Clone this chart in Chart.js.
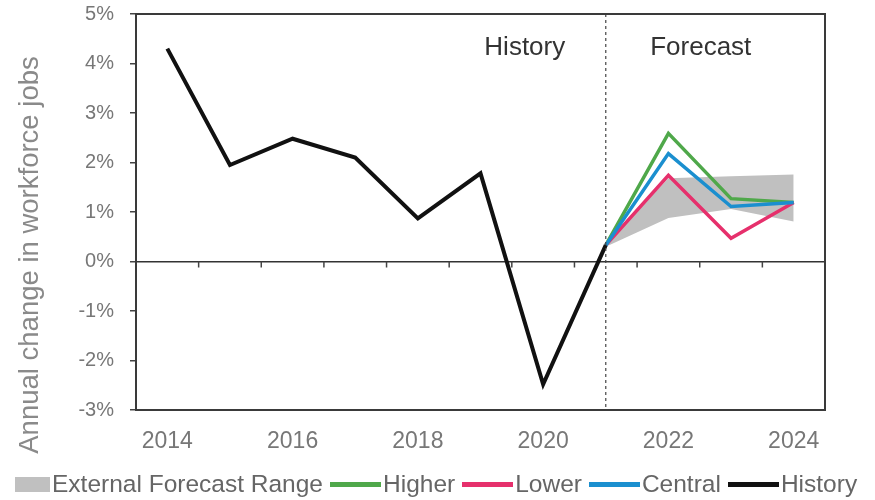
<!DOCTYPE html>
<html>
<head>
<meta charset="utf-8">
<script src="https://cdn.jsdelivr.net/npm/chart.js@4.4.1/dist/chart.umd.min.js"></script>
<style>
  html, body { margin: 0; padding: 0; background: #fff; }
  #wrap { position: relative; width: 875px; height: 500px; }
  #legend {
    position: absolute; left: 15px; top: 470px;
    font: 24.5px "Liberation Sans", Arial, sans-serif; color: #666;
    display: flex; align-items: center; white-space: nowrap;
  }
  .sw { display: inline-block; margin-right: 2px; }
  .lbl { margin-right: 7px; }
</style>
</head>
<body>
<div id="wrap">
  <canvas id="chart"></canvas>
  <div id="legend"></div>
</div>
<script>
// Data
const years = ["2014", "2015", "2016", "2017", "2018", "2019", "2020", "2021", "2022", "2023", "2024"];
const history = [4.3, 1.95, 2.48, 2.1, 0.87, 1.78, -2.48, 0.33, null, null, null];
const higher = [null, null, null, null, null, null, null, 0.33, 2.59, 1.27, 1.19];
const central = [null, null, null, null, null, null, null, 0.33, 2.18, 1.11, 1.19];
const lower = [null, null, null, null, null, null, null, 0.33, 1.74, 0.47, 1.19];
const rangeUpper = [null, null, null, null, null, null, null, 0.36, 1.68, 1.72, 1.76];
const rangeLower = [null, null, null, null, null, null, null, 0.3, 0.88, 1.06, 0.81];
const yTicks = [-3, -2, -1, 0, 1, 2, 3, 4, 5];
const forecastStart = 7; // index of 2021

const FONT = "'Liberation Sans', Arial, sans-serif";
const colors = {
  range: "#c0c0c0",
  higher: "#4fa84a",
  lower: "#e6306c",
  central: "#1b8fcf",
  history: "#111111",
};

// frame, zero-line ticks, dashed divider, axis title and History/Forecast labels
Chart.register({
  id: "decor",
  afterDatasetsDraw: (chart) => {
    const ctx = chart.ctx;
    const a = chart.chartArea;
    const x = chart.scales.x;
    const y = chart.scales.y;
    ctx.save();
    // ticks below the zero line at category boundaries
    const y0 = y.getPixelForValue(0);
    const half = (x.getPixelForValue(1) - x.getPixelForValue(0)) / 2;
    ctx.strokeStyle = "#444";
    ctx.lineWidth = 1.5;
    for (let i = 0; i <= years.length; i++) {
      const px = x.getPixelForValue(i) - half;
      ctx.beginPath();
      ctx.moveTo(px, y0);
      ctx.lineTo(px, y0 + 6);
      ctx.stroke();
    }
    // dashed divider
    const xd = x.getPixelForValue(forecastStart);
    ctx.setLineDash([3, 3]);
    ctx.lineWidth = 1.2;
    ctx.beginPath();
    ctx.moveTo(xd, a.top);
    ctx.lineTo(xd, a.bottom);
    ctx.stroke();
    ctx.setLineDash([]);
    // frame
    ctx.lineWidth = 2;
    ctx.strokeStyle = "#3a3a3a";
    ctx.strokeRect(a.left, a.top, a.right - a.left, a.bottom - a.top);
    // labels
    ctx.fillStyle = "#333";
    ctx.font = "26px " + FONT;
    ctx.textAlign = "center";
    ctx.textBaseline = "middle";
    ctx.fillText("History", xd - 81, y.getPixelForValue(4.32));
    ctx.fillText("Forecast", xd + 95, y.getPixelForValue(4.32));
    // y axis title
    ctx.translate(30, (a.top + a.bottom) / 2 + 43);
    ctx.rotate(-Math.PI / 2);
    ctx.fillStyle = "#8a8a8a";
    ctx.font = "27.5px " + FONT;
    ctx.fillText("Annual change in workforce jobs", 0, 0);
    ctx.restore();
  },
});

const ctx = document.getElementById("chart").getContext("2d");
const lineDefaults = { pointRadius: 0, tension: 0, fill: false, borderJoinStyle: "miter" };

new Chart(ctx, {
  type: "line",
  data: {
    labels: years,
    datasets: [
      { ...lineDefaults, label: "History", data: history, borderColor: colors.history, borderWidth: 4, order: 1 },
      { ...lineDefaults, label: "Central", data: central, borderColor: colors.central, borderWidth: 3.5, order: 2 },
      { ...lineDefaults, label: "Lower", data: lower, borderColor: colors.lower, borderWidth: 3.5, order: 3 },
      { ...lineDefaults, label: "Higher", data: higher, borderColor: colors.higher, borderWidth: 3.5, order: 4 },
      { ...lineDefaults, label: "External Forecast Range", data: rangeUpper, borderWidth: 0, borderColor: "rgba(0,0,0,0)", backgroundColor: colors.range, fill: "+1", order: 10 },
      { ...lineDefaults, label: "rangeLower", data: rangeLower, borderWidth: 0, borderColor: "rgba(0,0,0,0)", order: 11 },
    ],
  },
  options: {
    responsive: true,
    maintainAspectRatio: false,
    animation: false,
    layout: { padding: { top: 14, right: 50, left: 0, bottom: 0 } },
    plugins: {
      legend: { display: false },
      tooltip: { enabled: false },
    },
    scales: {
      x: {
        offset: true,
        grid: { display: false },
        border: { display: false },
        ticks: {
          autoSkip: false,
          maxRotation: 0,
          padding: 10,
          color: "#777",
          font: { family: FONT, size: 23 },
          callback: (v, i) => (i % 2 === 0 ? years[i] : ""),
        },
        afterFit: (s) => { s.height = 90; },
      },
      y: {
        min: yTicks[0],
        max: yTicks[yTicks.length - 1],
        afterBuildTicks: (s) => { s.ticks = yTicks.map((v) => ({ value: v })); },
        border: { display: false },
        grid: {
          color: (c) => (c.tick && c.tick.value === 0 ? "#333" : "rgba(0,0,0,0)"),
          lineWidth: 1.5,
          tickColor: "#444",
          tickLength: 6,
        },
        ticks: {
          padding: 16,
          color: "#777",
          font: { family: FONT, size: 20 },
          callback: (v) => v + "%",
        },
        afterFit: (s) => {
          s.width = 136;
          s.paddingTop = 0;
          s.paddingBottom = 0;
        },
      },
    },
  },
});

// legend
const legendItems = [
  { label: "External Forecast Range", color: colors.range, box: true },
  { label: "Higher", color: colors.higher },
  { label: "Lower", color: colors.lower },
  { label: "Central", color: colors.central },
  { label: "History", color: colors.history },
];
document.getElementById("legend").innerHTML = legendItems
  .map((it) => {
    const w = it.box ? 35 : 51;
    const h = it.box ? 15 : 5;
    return `<span class="sw" style="width:${w}px;height:${h}px;background:${it.color}"></span><span class="lbl">${it.label}</span>`;
  })
  .join("");
</script>
</body>
</html>
